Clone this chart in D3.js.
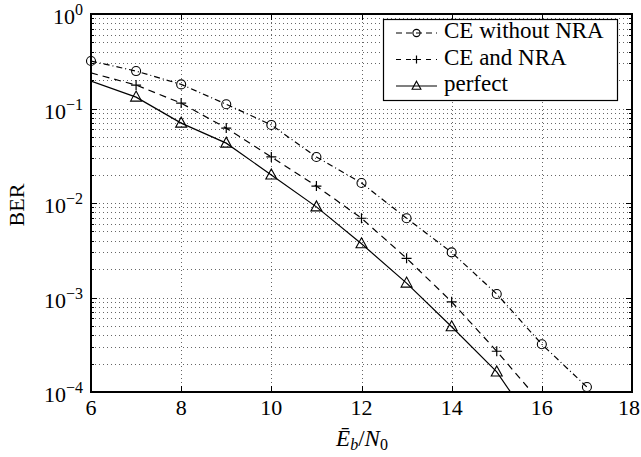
<!DOCTYPE html>
<html>
<head>
<meta charset="utf-8">
<script src="https://cdn.jsdelivr.net/npm/d3@7"></script>
<style>
  body { margin: 0; background: #fff; }
  text { font-family: "Liberation Serif", "DejaVu Serif", serif; fill: #000; }
</style>
</head>
<body>
<svg width="641" height="457"></svg>
<script>
// chart data
const snr = [6, 7, 8, 9, 10, 11, 12, 13, 14, 15, 16, 17];
const berNoNra = [0.318, 0.249, 0.18, 0.111, 0.067, 0.0307, 0.0163, 0.0069, 0.0030, 0.00109, 0.00032, 0.000113];
const berNra = [0.238, 0.177, 0.114, 0.062, 0.0307, 0.0151, 0.0069, 0.0026, 0.0009, 0.00027, 0.000075];
const berPerfect = [0.195, 0.132, 0.070, 0.043, 0.0198, 0.0091, 0.0037, 0.00142, 0.00049, 0.000163, 0.000033];
const xTicks = [6, 8, 10, 12, 14, 16, 18];
const yTicks = [1e0, 1e-1, 1e-2, 1e-3, 1e-4];
const seriesNames = ['CE without NRA', 'CE and NRA', 'perfect'];

const svg = d3.select('svg');
const m = { left: 91, right: 632, top: 14, bottom: 392 };

const x = d3.scaleLinear().domain([6, 18]).range([m.left, m.right]);
const y = d3.scaleLog().domain([1e-4, 1]).range([m.bottom, m.top]);

// grid, dotted
const minor = [];
for (let e = -4; e < 0; e++) {
  for (let k = 1; k <= 9; k++) minor.push(k * Math.pow(10, e));
}
const grid = svg.append('g').attr('stroke', '#666').attr('stroke-width', 1)
  .attr('stroke-dasharray', '1,3');
grid.selectAll('.gy').data(minor.filter(v => v > 1e-4)).enter().append('line')
  .attr('x1', m.left).attr('x2', m.right)
  .attr('y1', d => Math.round(y(d)) + 0.5).attr('y2', d => Math.round(y(d)) + 0.5);
grid.selectAll('.gx').data(xTicks.slice(1, -1)).enter().append('line')
  .attr('y1', m.top).attr('y2', m.bottom)
  .attr('x1', d => Math.round(x(d)) + 0.5).attr('x2', d => Math.round(x(d)) + 0.5);

// ticks inside the frame
const ticks = svg.append('g').attr('stroke', '#000').attr('stroke-width', 1);
xTicks.forEach(t => {
  const px = Math.round(x(t)) + 0.5;
  ticks.append('line').attr('x1', px).attr('x2', px).attr('y1', m.bottom).attr('y2', m.bottom - 6);
  ticks.append('line').attr('x1', px).attr('x2', px).attr('y1', m.top).attr('y2', m.top + 6);
});
minor.forEach(v => {
  const py = Math.round(y(v)) + 0.5;
  const len = yTicks.includes(v) ? 6 : 3;
  ticks.append('line').attr('x1', m.left).attr('x2', m.left + len).attr('y1', py).attr('y2', py);
  ticks.append('line').attr('x1', m.right).attr('x2', m.right - len).attr('y1', py).attr('y2', py);
});

// clip
svg.append('clipPath').attr('id', 'clip').append('rect')
  .attr('x', m.left).attr('y', m.top).attr('width', m.right - m.left).attr('height', m.bottom - m.top);

const series = [
  { name: seriesNames[0], vals: berNoNra, dash: '6,3,1,3', mark: 'circle', from: 6 },
  { name: seriesNames[1], vals: berNra, dash: '7,5', mark: 'plus', from: 7 },
  { name: seriesNames[2], vals: berPerfect, dash: null, mark: 'tri', from: 7 }
];

const line = d3.line().x(d => x(d[0])).y(d => y(d[1]));
const plot = svg.append('g').attr('clip-path', 'url(#clip)');

function drawMark(g, type, cx, cy, k = 1) {
  if (type === 'circle') {
    g.append('circle').attr('cx', cx).attr('cy', cy).attr('r', 4.5 * k)
      .attr('fill', 'none').attr('stroke', '#000').attr('stroke-width', 1.1);
  } else if (type === 'plus') {
    g.append('path').attr('d', `M${cx - 5 * k},${cy}H${cx + 5 * k}M${cx},${cy - 5 * k}V${cy + 5 * k}`)
      .attr('stroke', '#000').attr('stroke-width', 1.2);
  } else {
    g.append('path').attr('d', `M${cx},${cy - 6 * k}L${cx + 5.5 * k},${cy + 4 * k}L${cx - 5.5 * k},${cy + 4 * k}Z`)
      .attr('fill', 'none').attr('stroke', '#000').attr('stroke-width', 1.1);
  }
}

series.forEach(s => {
  const pts = s.vals.map((v, i) => [snr[i], v]);
  plot.append('path').datum(pts).attr('d', line)
    .attr('fill', 'none').attr('stroke', '#000').attr('stroke-width', 1.2)
    .attr('stroke-dasharray', s.dash);
  pts.filter(p => p[0] >= s.from && y(p[1]) <= m.bottom + 2)
    .forEach(p => drawMark(svg, s.mark, x(p[0]), y(p[1])));
});

// frame
svg.append('rect').attr('x', m.left).attr('y', m.top)
  .attr('width', m.right - m.left).attr('height', m.bottom - m.top)
  .attr('fill', 'none').attr('stroke', '#000').attr('stroke-width', 2);

// tick labels
svg.selectAll('.xl').data(xTicks).enter().append('text')
  .attr('x', d => d === 18 ? 640 : x(d)).attr('y', m.bottom + 23)
  .attr('text-anchor', d => d === 18 ? 'end' : 'middle').attr('font-size', 22).text(d => d);

yTicks.forEach(v => {
  const e = Math.round(Math.log10(v));
  const t = svg.append('text').attr('x', 83).attr('y', y(v) + 10)
    .attr('text-anchor', 'end').attr('font-size', 22);
  t.append('tspan').text('10');
  t.append('tspan').attr('dy', -9).attr('font-size', 16).text(e === 0 ? '0' : '\u2212' + (-e));
});

// axis titles
svg.append('text').attr('transform', `translate(24,205) rotate(-90)`)
  .attr('text-anchor', 'middle').attr('font-size', 22).text('BER');

const xl = svg.append('text').attr('x', 362).attr('y', 446)
  .attr('text-anchor', 'middle').attr('font-size', 23);
xl.append('tspan').attr('font-style', 'italic').text('\u0112');
xl.append('tspan').attr('font-style', 'italic').attr('font-size', 16).attr('dy', 4).text('b');
xl.append('tspan').attr('dy', -4).text('/');
xl.append('tspan').attr('font-style', 'italic').text('N');
xl.append('tspan').attr('font-size', 16).attr('dy', 4).text('0');

// legend
const lg = svg.append('g');
lg.append('rect').attr('x', 383.5).attr('y', 19.5).attr('width', 234).attr('height', 81)
  .attr('fill', '#fff').attr('stroke', '#000').attr('stroke-width', 1.2);
series.forEach((s, i) => {
  const ly = 33 + i * 26.5;
  lg.append('line').attr('x1', 396).attr('x2', 437).attr('y1', ly).attr('y2', ly)
    .attr('stroke', '#000').attr('stroke-width', 1.2)
    .attr('stroke-dasharray', s.dash ? (i === 0 ? '6,4' : '5,5') : null);
  drawMark(lg, s.mark, 416.5, ly, 0.8);
  lg.append('text').attr('x', 444).attr('y', ly + 5).attr('font-size', 23).text(s.name);
});
</script>
</body>
</html>
